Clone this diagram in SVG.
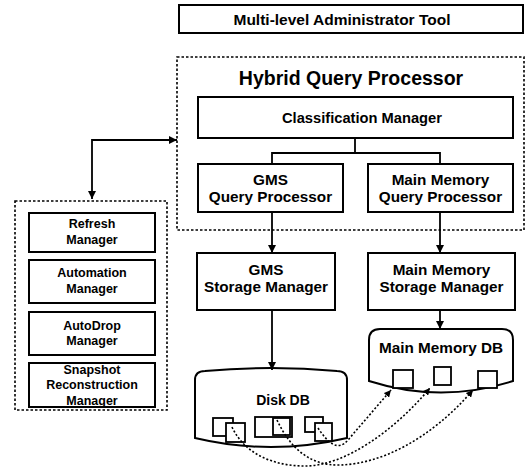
<svg xmlns="http://www.w3.org/2000/svg" width="526" height="468" viewBox="0 0 526 468">
<style>
.box{fill:#fff;stroke:#000;stroke-width:2}
.dash{fill:none;stroke:#000;stroke-width:1.6;stroke-dasharray:2.5 2}
.t{font-family:"Liberation Sans",Arial,sans-serif;font-weight:bold;fill:#000;text-anchor:middle}
.ln{fill:none;stroke:#000;stroke-width:1.8}
.dot{fill:none;stroke:#000;stroke-width:1.6;stroke-dasharray:2 2}
.sq{fill:#fff;stroke:#000;stroke-width:1.8}
</style>
<defs>
<marker id="ah" viewBox="0 0 10 10" refX="10" refY="5" markerWidth="8" markerHeight="8" markerUnits="userSpaceOnUse" orient="auto-start-reverse">
<path d="M0,0 L10,5 L0,10 z" fill="#000"/>
</marker>
<marker id="ahs" viewBox="0 0 10 10" refX="10" refY="5" markerWidth="7" markerHeight="7" markerUnits="userSpaceOnUse" orient="auto">
<path d="M0,0 L10,5 L0,10 z" fill="#000"/>
</marker>
</defs>

<g id="admin-tool">
<rect class="box" x="179" y="5" width="344" height="28"/>
<text class="t" x="342" y="25" font-size="15.5">Multi-level Administrator Tool</text>
</g>

<g id="hybrid-query-processor">
<rect class="dash" x="177" y="57" width="347" height="173"/>
<text class="t" x="351" y="85" font-size="19.5">Hybrid Query Processor</text>
</g>

<g id="classification-manager">
<rect class="box" x="198" y="97" width="315" height="41"/>
<text class="t" x="362" y="123" font-size="14.7">Classification Manager</text>
</g>

<g id="gms-query-processor">
<rect class="box" x="198" y="164" width="145" height="48"/>
<text class="t" x="270.5" y="185" font-size="15.3">GMS</text>
<text class="t" x="270.5" y="202" font-size="15.3">Query Processor</text>
</g>

<g id="mm-query-processor">
<rect class="box" x="368" y="164" width="145" height="48"/>
<text class="t" x="440.5" y="185" font-size="15.3">Main Memory</text>
<text class="t" x="440.5" y="202" font-size="15.3">Query Processor</text>
</g>

<g id="gms-storage-manager">
<rect class="box" x="197" y="253" width="138" height="57"/>
<text class="t" x="266" y="275" font-size="15.3">GMS</text>
<text class="t" x="266" y="292" font-size="15.3">Storage Manager</text>
</g>

<g id="mm-storage-manager">
<rect class="box" x="368" y="253" width="147" height="57"/>
<text class="t" x="441.5" y="275" font-size="15.3">Main Memory</text>
<text class="t" x="441.5" y="292" font-size="15.3">Storage Manager</text>
</g>

<g id="main-memory-db">
<path class="box" d="M369,381 L369,340 Q369,329 380,329 L502,329 Q513,329 513,340 L513,381 Q441,404 369,381 Z"/>
<text class="t" x="441" y="353" font-size="15.3">Main Memory DB</text>
<rect class="sq" x="393" y="370" width="20" height="18"/>
<rect class="sq" x="434" y="367" width="17" height="18"/>
<rect class="sq" x="478" y="371" width="19" height="17"/>
</g>

<g id="disk-db">
<path class="box" d="M195,438 L195,380 Q195,371 205,371 Q271,365 337,371 Q347,371 347,380 L347,438 Q271,456 195,438 Z"/>
<text class="t" x="283" y="405" font-size="14">Disk DB</text>
<rect class="sq" x="213" y="418" width="20" height="18"/>
<rect class="sq" x="226" y="423" width="19" height="19"/>
<rect class="sq" x="255" y="417" width="37" height="20"/>
<rect class="sq" x="273" y="418" width="17" height="17"/>
<rect class="sq" x="305" y="417" width="18" height="15"/>
<rect class="sq" x="315" y="423" width="17" height="18"/>
</g>

<g id="left-panel">
<rect class="dash" x="15" y="201" width="152" height="209"/>
</g>

<g id="refresh-manager">
<rect class="box" x="29" y="213" width="126" height="39"/>
<text class="t" x="92" y="228" font-size="12.5">Refresh</text>
<text class="t" x="92" y="244" font-size="12.5">Manager</text>
</g>

<g id="automation-manager">
<rect class="box" x="29" y="260" width="126" height="43"/>
<text class="t" x="92" y="277" font-size="12.5">Automation</text>
<text class="t" x="92" y="293" font-size="12.5">Manager</text>
</g>

<g id="autodrop-manager">
<rect class="box" x="29" y="312" width="126" height="43"/>
<text class="t" x="92" y="330" font-size="12.5">AutoDrop</text>
<text class="t" x="92" y="345" font-size="12.5">Manager</text>
</g>

<g id="snapshot-manager">
<rect class="box" x="29" y="363" width="126" height="44"/>
<text class="t" x="92" y="374" font-size="12.5">Snapshot</text>
<text class="t" x="92" y="389" font-size="12.5">Reconstruction</text>
<text class="t" x="92" y="405" font-size="12.5">Manager</text>
</g>

<g id="connectors">
<path class="ln" d="M92,199 L92,140 L177,140" marker-start="url(#ah)" marker-end="url(#ah)"/>
<path class="ln" d="M355,138 L355,153 M272,164 L272,153 L440,153 L440,164"/>
<path class="ln" d="M272,212 L272,253" marker-end="url(#ah)"/>
<path class="ln" d="M440,212 L440,253" marker-end="url(#ah)"/>
<path class="ln" d="M272,310 L272,370" marker-end="url(#ah)"/>
<path class="ln" d="M440,310 L440,329" marker-end="url(#ah)"/>
<path class="dot" d="M232,427 C245,455 275,466 305,466 C345,466 395,430 430,388" marker-end="url(#ahs)"/>
<path class="dot" d="M277,420 C290,448 310,466 340,465 C380,464 430,440 473,390" marker-end="url(#ahs)"/>
<path class="dot" d="M318,428 C328,443 338,452 348,440 L391,390" marker-end="url(#ahs)"/>
</g>
</svg>
